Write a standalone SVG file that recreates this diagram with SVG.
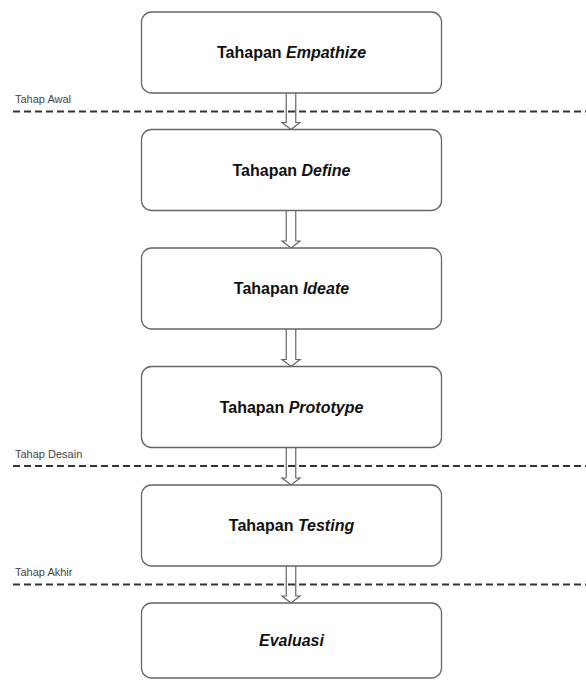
<svg xmlns="http://www.w3.org/2000/svg" width="586" height="680" viewBox="0 0 586 680">
<style>
.box{fill:#ffffff;stroke:#666666;stroke-width:1.3}
.lbl{font-family:"Liberation Sans",Arial,sans-serif;font-size:16px;font-weight:bold;fill:#111111;text-anchor:middle}
.it{font-style:italic}
.sep{stroke:#333333;stroke-width:2;stroke-dasharray:7 4;fill:none}
.sl{font-family:"Liberation Sans",Arial,sans-serif;font-size:11px;fill:#444444}
.arr{fill:none;stroke:#666666;stroke-width:1.2;stroke-linejoin:miter}
</style>
<rect width="586" height="680" fill="#ffffff"/>
<g id="separators">
<line class="sep" x1="13" y1="111.5" x2="586" y2="111.5"/>
<text class="sl" x="15" y="103">Tahap Awal</text>
<line class="sep" x1="13" y1="466" x2="586" y2="466"/>
<text class="sl" x="15" y="457.5">Tahap Desain</text>
<line class="sep" x1="13" y1="584.5" x2="586" y2="584.5"/>
<text class="sl" x="15" y="576">Tahap Akhir</text>
</g>
<g id="connectors">
<path class="arr" d="M286.25,93 V122.5 H282 L291,129.5 L300,122.5 H295.75 V93"/>
<path class="arr" d="M286.25,210.5 V241 H282 L291,248 L300,241 H295.75 V210.5"/>
<path class="arr" d="M286.25,329 V359.5 H282 L291,366.5 L300,359.5 H295.75 V329"/>
<path class="arr" d="M286.25,447.5 V478 H282 L291,485 L300,478 H295.75 V447.5"/>
<path class="arr" d="M286.25,566 V596 H282 L291,603 L300,596 H295.75 V566"/>
</g>
<g id="empathize">
<rect class="box" x="141.5" y="12" width="300" height="81" rx="10"/>
<text class="lbl" x="291.5" y="58">Tahapan <tspan class="it">Empathize</tspan></text>
</g>
<g id="define">
<rect class="box" x="141.5" y="129.5" width="300" height="81" rx="10"/>
<text class="lbl" x="291.5" y="175.5">Tahapan <tspan class="it">Define</tspan></text>
</g>
<g id="ideate">
<rect class="box" x="141.5" y="248" width="300" height="81" rx="10"/>
<text class="lbl" x="291.5" y="294">Tahapan <tspan class="it">Ideate</tspan></text>
</g>
<g id="prototype">
<rect class="box" x="141.5" y="366.5" width="300" height="81" rx="10"/>
<text class="lbl" x="291.5" y="412.5">Tahapan <tspan class="it">Prototype</tspan></text>
</g>
<g id="testing">
<rect class="box" x="141.5" y="485" width="300" height="81" rx="10"/>
<text class="lbl" x="291.5" y="531">Tahapan <tspan class="it">Testing</tspan></text>
</g>
<g id="evaluasi">
<rect class="box" x="141.5" y="603" width="300" height="75" rx="10"/>
<text class="lbl it" x="291.5" y="646">Evaluasi</text>
</g>
</svg>
